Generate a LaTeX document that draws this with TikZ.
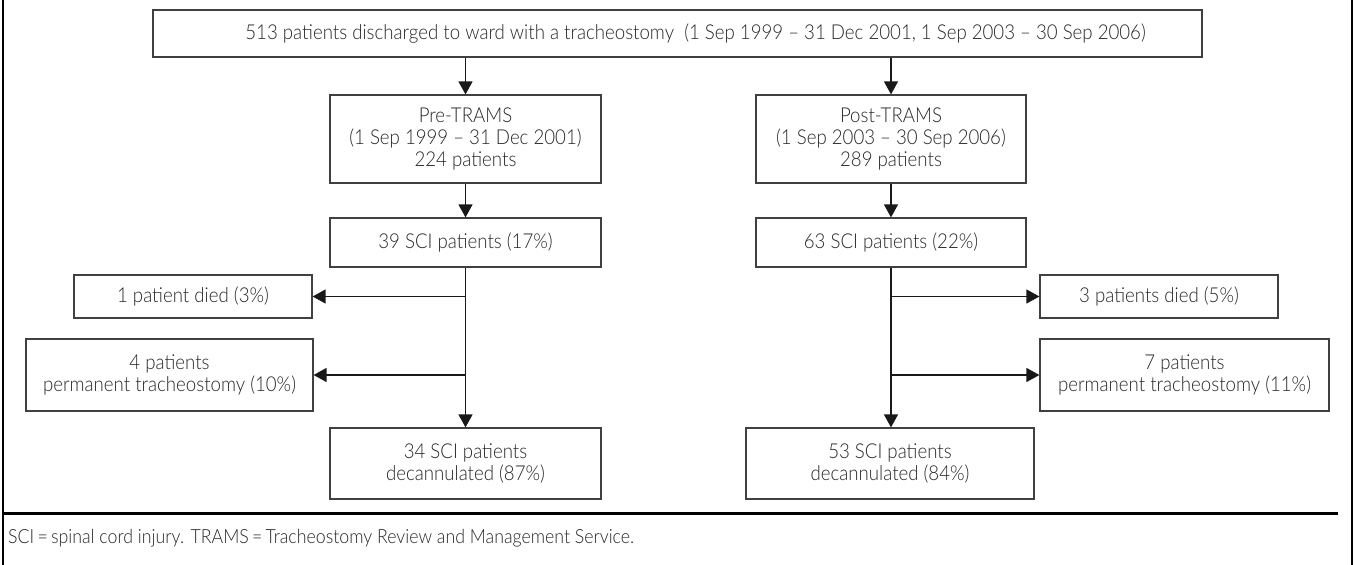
\documentclass[tikz,border=0pt]{standalone}
\usepackage{fontspec}
\IfFontExistsTF{Lato Light}{\setmainfont{Lato Light}[FakeStretch=0.91]}{\setmainfont{Lato}[FakeStretch=0.91]}
\usetikzlibrary{arrows.meta}
\begin{document}
\begin{tikzpicture}[x=1pt,y=-1pt,
  box/.style={draw=black!75, line width=1.2pt, align=center, inner sep=0pt,
              font=\fontsize{20.5}{22.3}\selectfont, text=black!85},
  arr/.style={-{Triangle[length=13pt,width=14pt]}, line width=1.3pt, draw=black!90},
  frame/.style={line width=2.5pt, draw=black}]
\useasboundingbox (0,0) rectangle (1355,565);
\draw[frame] (3,0) -- (3,565);
\draw[frame] (1352,0) -- (1352,565);

\node[box, minimum width=1049pt, minimum height=47pt] (top) at (677.5,33.5)
  {\hspace*{36pt}513 patients discharged to ward with a tracheostomy\ \ (1 Sep 1999 – 31 Dec 2001, 1 Sep 2003 – 30 Sep 2006)};

\node[box, minimum width=271pt, minimum height=88pt] (preL) at (465.5,139)
  {Pre-TRAMS\\(1 Sep 1999 – 31 Dec 2001)\\224 patients};
\node[box, minimum width=270pt, minimum height=88pt] (postR) at (891,139)
  {Post-TRAMS\\(1 Sep 2003 – 30 Sep 2006)\\289 patients};

\node[box, minimum width=271pt, minimum height=49pt] (sciL) at (465.5,242.5) {39 SCI patients (17\%)};
\node[box, minimum width=270pt, minimum height=49pt] (sciR) at (891,242.5) {63 SCI patients (22\%)};

\node[box, minimum width=238pt, minimum height=43pt] (diedL) at (193,296.5) {1 patient died (3\%)};
\node[box, minimum width=238pt, minimum height=43pt] (diedR) at (1159,296.5) {3 patients died (5\%)};

\node[box, minimum width=287pt, minimum height=72pt] (permL) at (169.5,375)
  {4 patients\\permanent tracheostomy (10\%)};
\node[box, minimum width=289pt, minimum height=72pt] (permR) at (1184.5,375)
  {7 patients\\permanent tracheostomy (11\%)};

\node[box, minimum width=271pt, minimum height=71pt] (decL) at (465.5,463.5)
  {34 SCI patients\\decannulated (87\%)};
\node[box, minimum width=288pt, minimum height=71pt] (decR) at (890,463.5)
  {53 SCI patients\\decannulated (84\%)};

\draw[arr] (top.south -| preL.north) -- (preL.north);
\draw[arr] (top.south -| postR.north) -- (postR.north);
\draw[arr] (preL.south) -- (sciL.north);
\draw[arr] (postR.south) -- (sciR.north);
\draw[arr] (sciL.south) -- (decL.north);
\draw[arr] (sciR.south) -- (sciR.south |- decR.north);
\draw[arr] (sciL.south |- diedL.east) -- (diedL.east);
\draw[arr] (sciL.south |- permL.east) -- (permL.east);
\draw[arr] (sciR.south |- diedR.west) -- (diedR.west);
\draw[arr] (sciR.south |- permR.west) -- (permR.west);

\draw[frame, line width=3pt] (3,513) -- (1338,513);
\node[anchor=west, inner sep=0pt, font=\fontsize{19.5}{22}\selectfont, text=black!85] (note) at (8,538)
  {SCI\,=\,spinal cord injury. TRAMS\,=\,Tracheostomy Review and Management Service.};
\end{tikzpicture}
\end{document}
